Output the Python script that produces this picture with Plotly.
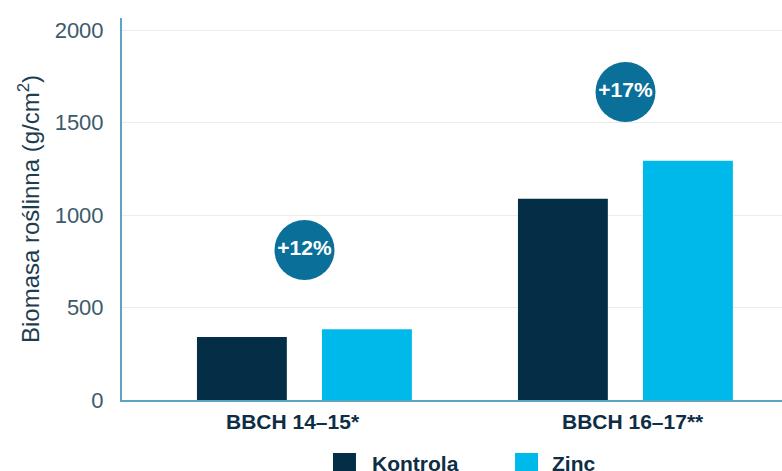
import plotly.graph_objects as go

# ---- data ----
categories = ["BBCH 14–15*", "BBCH 16–17**"]
series_names = ["Kontrola", "Zinc"]
kontrola = [340, 1088]
zinc = [383, 1293]
increase_labels = ["+12%", "+17%"]
y_ticks = [0, 500, 1000, 1500, 2000]

colors = ["#032e46", "#00b9eb"]
badge_color = "#0a7099"
badge_y = [811, 1665]
label_shift = [-12, 7]

font_fam = "Liberation Sans, Arial, sans-serif"

fig = go.Figure()
offsets = [-0.335, 0.0545]
for name, vals, col, off in zip(series_names, [kontrola, zinc], colors, offsets):
    fig.add_trace(go.Bar(
        x=categories, y=vals, name=name, marker=dict(color=col, line=dict(width=0)),
        width=0.28, offset=off, showlegend=False, hoverinfo="skip",
    ))

fig.add_trace(go.Scatter(
    x=categories, y=badge_y, mode="markers+text",
    marker=dict(size=60, color=badge_color, line=dict(width=0)),
    text=increase_labels, textposition="middle center",
    textfont=dict(family=font_fam, size=21, color="white", weight="bold"),
    showlegend=False, hoverinfo="skip",
))

# category labels (as annotations, slightly off-centre like the reference)
for cat, sh in zip(categories, label_shift):
    fig.add_annotation(xref="x", yref="paper", x=cat, y=-0.055, xshift=sh,
                       text="<b>%s</b>" % cat, showarrow=False,
                       xanchor="center", yanchor="middle",
                       font=dict(family=font_fam, size=21, color="#0d2e44"))

# manual legend (bottom, partly cut as in the reference)
legend_sq_x = [0.3197, 0.5955]
legend_txt_x = [0.3758, 0.6485]
for name, col, sx, tx in zip(series_names, colors, legend_sq_x, legend_txt_x):
    fig.add_shape(type="rect", xref="paper", yref="paper",
                  x0=sx, x1=sx + 0.0348, y0=-0.199, y1=-0.1387,
                  fillcolor=col, line=dict(width=0))
    fig.add_annotation(xref="paper", yref="paper", x=tx, y=-0.165,
                       text="<b>%s</b>" % name, showarrow=False,
                       xanchor="left", yanchor="middle",
                       font=dict(family=font_fam, size=21, color="#0d2e44"))

fig.update_layout(
    width=782, height=471,
    margin=dict(l=122, r=0, t=18, b=71),
    paper_bgcolor="white", plot_bgcolor="white",
    barmode="overlay",
    font=dict(family=font_fam),
    xaxis=dict(
        range=[-0.5685, 1.4875], showgrid=False, zeroline=False,
        showline=True, linecolor="#5ba4c2", linewidth=2,
        ticks="", showticklabels=False,
    ),
    yaxis=dict(
        range=[0, 2065], tickvals=y_ticks, ticktext=[str(v) for v in y_ticks],
        showgrid=True, gridcolor="#ececec", gridwidth=1, zeroline=False,
        showline=True, linecolor="#5ba4c2", linewidth=2,
        ticks="", tickfont=dict(size=22, color="#3d5a6b"),
        ticklabelstandoff=12,
        title=dict(text="Biomasa roślinna (g/cm<sup>2</sup>)",
                   font=dict(size=24, color="#1e3d50"), standoff=8),
    ),
)

fig.write_html("out.html", config={"displayModeBar": False},
               post_script="document.body.style.margin='0';")
